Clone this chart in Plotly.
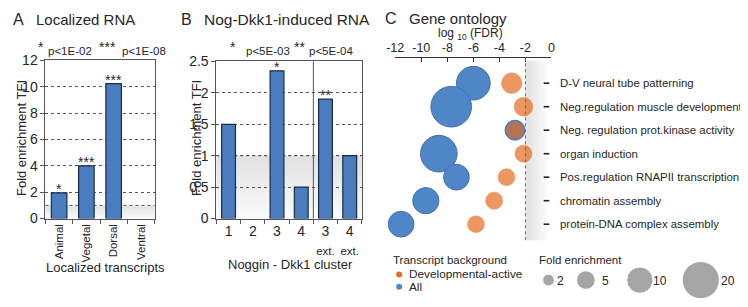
import numpy as np
import plotly.graph_objects as go

# page body has an 8px margin, so the figure is shifted by OFF px
OFF = 8
W, H = 748 - OFF, 307 - OFF
FONT = "Liberation Sans, Arial, sans-serif"
TXT = "#262626"
BAR_FILL = "#4a7cc0"
BAR_LINE = "#1c2b45"
BLUE = "#4e86c8"
ORANGE = "#e46c1f"

# ---------------- data ----------------
a_categories = ["Animal", "Vegetal", "Dorsal", "Ventral"]
a_values = [1.95, 4.0, 10.25, 0.0]
a_stars = ["*", "***", "***", ""]

b_categories = ["c1", "c2", "c3", "c4", "c3ext", "c4ext"]
b_ticktext = ["1", "2", "3", "4",
              "3<br><span style='font-size:11.5px'>ext.</span>",
              "4<br><span style='font-size:11.5px'>ext.</span>"]
b_values = [1.5, 0.0, 2.35, 0.5, 1.9, 1.0]
b_stars = ["", "", "*", "", "**", ""]

go_terms = ["D-V neural tube patterning",
            "Neg.regulation muscle development",
            "Neg. regulation prot.kinase activity",
            "organ induction",
            "Pos.regulation RNAPII transcription",
            "chromatin assembly",
            "protein-DNA complex assembly"]
all_log_fdr = [-6.0, -7.7, -2.8, -8.65, -7.3, -9.65, -11.55]
all_fold = [16.5, 24.0, 5.8, 19.5, 9.6, 10.0, 9.6]
dev_log_fdr = [-3.05, -2.15, -2.8, -2.15, -3.45, -4.4, -5.8]
dev_fold = [6.2, 5.2, 4.2, 4.3, 4.2, 4.3, 4.2]

c_tickvals = [-12, -10, -8, -6, -4, -2, 0]
c_ticktext = ["-12", "-10", "-8", "-6", "-4", "-2", "0"]

legend_fold = [2, 5, 10, 20]

SIZE_K = 8.3  # px diameter per sqrt(fold enrichment)


def dia(v):
    return [SIZE_K * np.sqrt(x) for x in v]


def outline(v):
    return [1.2 if x > 0 else 0 for x in v]


def px(x):
    return (x - OFF) / W


def py(y):
    return 1 - (y - OFF) / H


fig = go.Figure()

# ---------------- panel A ----------------
fig.add_trace(go.Bar(x=a_categories, y=a_values, width=0.57,
                     marker=dict(color=BAR_FILL,
                                 line=dict(color=BAR_LINE, width=outline(a_values))),
                     xaxis="x", yaxis="y", showlegend=False))
# ---------------- panel B ----------------
fig.add_trace(go.Bar(x=b_categories, y=b_values, width=0.57,
                     marker=dict(color=BAR_FILL,
                                 line=dict(color=BAR_LINE, width=outline(b_values))),
                     xaxis="x2", yaxis="y2", showlegend=False))

# ---------------- panel C ----------------
rows = list(range(len(go_terms)))
fig.add_trace(go.Scatter(x=all_log_fdr, y=rows, mode="markers",
                         marker=dict(size=dia(all_fold), color=BLUE, opacity=1,
                                     line=dict(color="#4572ad", width=1)),
                         xaxis="x3", yaxis="y3", showlegend=False, cliponaxis=False))
fig.add_trace(go.Scatter(x=dev_log_fdr, y=rows, mode="markers",
                         marker=dict(size=dia(dev_fold), color=ORANGE,
                                     line=dict(color=ORANGE, width=0.5)),
                         xaxis="x3", yaxis="y3", showlegend=False, cliponaxis=False))
# small dashes before each term
fig.add_trace(go.Scatter(x=[-0.38] * len(rows), y=rows, mode="markers",
                         marker=dict(symbol="line-ew", size=4,
                                     line=dict(color="#222", width=1.6)),
                         xaxis="x3", yaxis="y3", showlegend=False, cliponaxis=False))

# ---------------- legend (pixel overlay axis) ----------------
fig.add_trace(go.Scatter(x=[397, 397], y=[281, 294], mode="markers",
                         marker=dict(size=6, color=[ORANGE, BLUE]),
                         xaxis="x4", yaxis="y4", showlegend=False, cliponaxis=False))
leg_x = [549, 587, 642, 704]
fig.add_trace(go.Scatter(x=leg_x, y=[287] * 4, mode="markers",
                         marker=dict(size=dia(legend_fold), color="#808080"),
                         xaxis="x4", yaxis="y4", showlegend=False, cliponaxis=False))

shapes = []
annotations = []

# gradient bands 0..1 for A and B
nsteps = 12
for ax, ay in (("x", "y"), ("x2", "y2")):
    for i in range(nsteps):
        y0 = i / nsteps
        y1 = (i + 1) / nsteps
        alpha = 0.04 + 0.30 * (i + 1) / nsteps
        shapes.append(dict(type="rect", xref=f"{ax} domain", yref=ay,
                           x0=0, x1=1, y0=y0, y1=y1, layer="below",
                           fillcolor=f"rgba(170,170,170,{alpha:.3f})", line=dict(width=0)))
    shapes.append(dict(type="line", xref=f"{ax} domain", yref=ay, x0=0, x1=1, y0=1, y1=1,
                       layer="below", line=dict(color="#555", width=1, dash="dot")))

# divider in B
shapes.append(dict(type="line", xref="x2", yref="y2 domain", x0=3.5, x1=3.5, y0=0, y1=1,
                   line=dict(color="#555", width=1)))

# gradient to right of -2 in C
g0, g1 = -2.0, -0.25
for i in range(nsteps):
    x0 = g0 + (g1 - g0) * i / nsteps
    x1 = g0 + (g1 - g0) * (i + 1) / nsteps
    alpha = 0.38 * (1 - i / nsteps)
    shapes.append(dict(type="rect", xref="x3", yref="y3 domain", x0=x0, x1=x1, y0=0, y1=0.985,
                       layer="below", fillcolor=f"rgba(175,175,175,{alpha:.3f})",
                       line=dict(width=0)))
shapes.append(dict(type="line", xref="x3", yref="y3 domain", x0=-2, x1=-2, y0=0, y1=1,
                   line=dict(color="#666", width=1, dash="dot")))

# stars above bars
for i, (v, s) in enumerate(zip(a_values, a_stars)):
    if s:
        annotations.append(dict(x=i, y=v, xref="x", yref="y", text=s, showarrow=False,
                                yanchor="bottom", yshift=-6, font=dict(size=14, color=TXT)))
for i, (v, s) in enumerate(zip(b_values, b_stars)):
    if s:
        annotations.append(dict(x=i, y=v, xref="x2", yref="y2", text=s, showarrow=False,
                                yanchor="bottom", yshift=-6, font=dict(size=14, color=TXT)))

# term labels
for r, t in zip(rows, go_terms):
    annotations.append(dict(x=px(559), y=r, xref="paper", yref="y3", text=t, showarrow=False,
                            xanchor="left", yanchor="middle", font=dict(size=11.4, color=TXT)))


def txt(x, y, s, size=12, xanchor="center", yanchor="middle", angle=0):
    annotations.append(dict(x=px(x), y=py(y), xref="paper", yref="paper", text=s,
                            showarrow=False, xanchor=xanchor, yanchor=yanchor,
                            textangle=angle, font=dict(size=size, color=TXT)))


# panel titles
txt(2, 12, "A", 16, "left")
txt(25, 12, "Localized RNA", 15, "left")
txt(173, 12, "B", 16, "left")
txt(196, 12, "Nog-Dkk1-induced RNA", 15.5, "left")
txt(381, 11, "C", 16, "left")
txt(405, 11, "Gene ontology", 15, "left")

# p-value headers
txt(32, 41, "*", 14)
txt(62, 45, "p<1E-02", 11.5)
txt(100, 41, "***", 14)
txt(137, 45, "p<1E-08", 11.5)
txt(228, 41, "*", 14)
txt(263, 45, "p<5E-03", 11.5)
txt(296, 41, "**", 14)
txt(328, 45, "p<5E-04", 11.5)

# axis titles
txt(12, 137, "Fold enrichment TFI", 13, angle=-90)
txt(98, 274, "Localized transcripts", 13)
txt(190, 137, "Fold enrichment TFI", 13, angle=-90)
txt(286, 271, "Noggin - Dkk1 cluster", 13)
txt(470, 27, "log <sub>10</sub> (FDR)", 12)

# legend texts
txt(389, 266, "Transcript background", 11.5, "left")
txt(405, 281, "Developmental-active", 11.8, "left")
txt(405, 294, "All", 11.8, "left")
txt(537, 266, "Fold enrichment", 11.5, "left")
for v, lx in zip(legend_fold, [561, 607, 662, 732]):
    txt(lx, 288, str(v), 12)

axis_common = dict(showline=True, linecolor="#555", linewidth=1, mirror=True,
                   ticks="outside", ticklen=4, tickcolor="#555", zeroline=False,
                   tickfont=dict(size=14, color=TXT))

fig.update_layout(
    width=W, height=H, margin=dict(l=0, r=0, t=0, b=0),
    paper_bgcolor="white", plot_bgcolor="rgba(0,0,0,0)",
    font=dict(family=FONT, color=TXT),
    bargap=0.43,
    xaxis=dict(domain=[px(37), px(148)], anchor="y", type="category",
               tickson="boundaries", showgrid=False, tickangle=-90,
               **{**axis_common, "tickfont": dict(size=11.5, color=TXT)}),
    yaxis=dict(domain=[py(222), py(55)], anchor="x", range=[0, 12], dtick=2,
               showgrid=True, gridcolor="#555", griddash="dot", gridwidth=1,
               **axis_common),
    xaxis2=dict(domain=[px(211), px(359)], anchor="y2", type="category",
                tickson="boundaries", showgrid=False, tickangle=0,
                tickmode="array", tickvals=b_categories, ticktext=b_ticktext,
                **axis_common),
    yaxis2=dict(domain=[py(222), py(56)], anchor="x2", range=[0, 2.5], dtick=0.5,
                showgrid=True, gridcolor="#555", griddash="dot", gridwidth=1,
                **axis_common),
    xaxis3=dict(domain=[px(393), px(552)], anchor="y3", side="top", range=[-12, 0],
                tickmode="array", tickvals=c_tickvals, ticktext=c_ticktext,
                ticks="inside", ticklen=4, tickcolor="#333", showline=True,
                linecolor="#333", linewidth=1, showgrid=False, zeroline=False,
                tickfont=dict(size=12.5, color=TXT)),
    yaxis3=dict(domain=[py(245), py(52)], anchor="x3", range=[6.686, -1.087],
                visible=False),
    xaxis4=dict(domain=[0, 1], anchor="y4", range=[OFF, OFF + W], visible=False),
    yaxis4=dict(domain=[0, 1], anchor="x4", range=[OFF + H, OFF], visible=False),
    shapes=shapes, annotations=annotations,
)

fig.write_html("out.html")
